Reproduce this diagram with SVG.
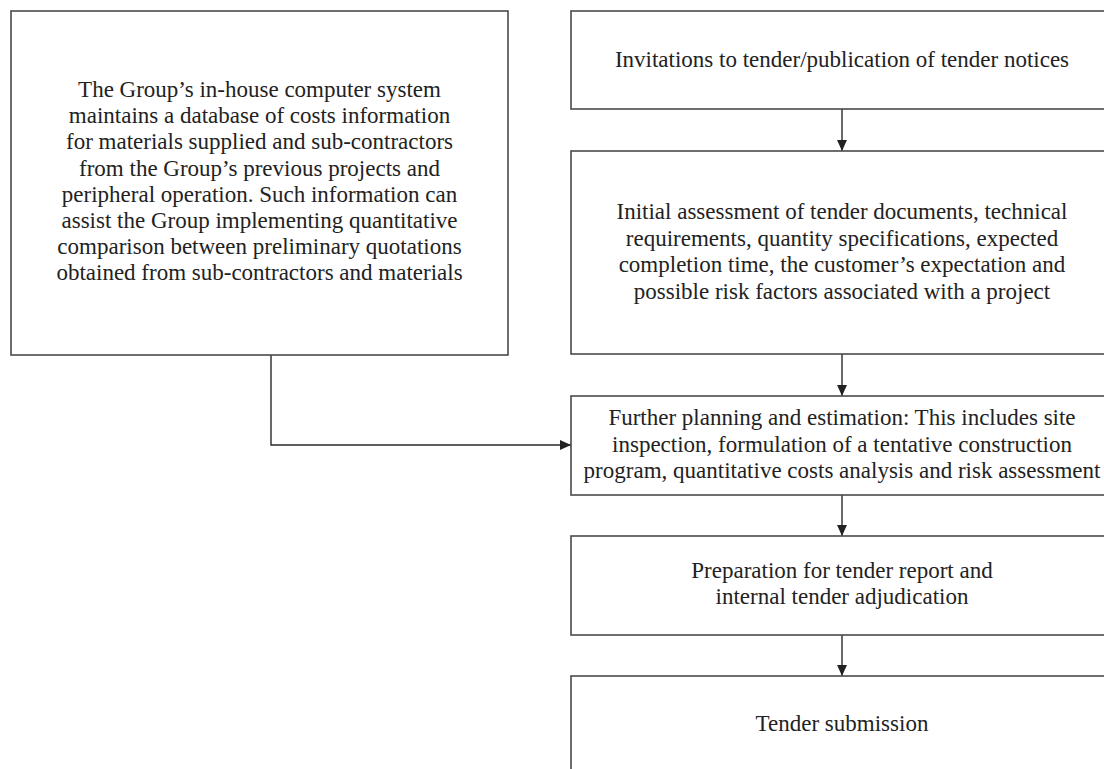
<svg xmlns="http://www.w3.org/2000/svg" width="1104" height="769" viewBox="0 0 1104 769">
<style>
.box{fill:#fff;stroke:#4a4a4a;stroke-width:1.6}
.t{font-family:"Liberation Serif","Times New Roman",serif;font-size:23px;fill:#222;text-anchor:middle}
.c{fill:none;stroke:#2a2a2a;stroke-width:1.4}
</style>
<defs>
<marker id="ah" viewBox="0 0 10 10" refX="10" refY="5" markerWidth="11" markerHeight="11" markerUnits="userSpaceOnUse" orient="auto">
<path d="M0,0.5 L10,5 L0,9.5 Z" fill="#222"/>
</marker>
</defs>
<rect width="1104" height="769" fill="#fff"/>
<g id="connectors">
<path class="c" d="M842,109 V151" marker-end="url(#ah)"/>
<path class="c" d="M842,354 V396" marker-end="url(#ah)"/>
<path class="c" d="M842,495 V536" marker-end="url(#ah)"/>
<path class="c" d="M842,635 V676" marker-end="url(#ah)"/>
<path class="c" d="M271,355 V445 H571" marker-end="url(#ah)"/>
</g>
<g id="n-database">
<rect class="box" x="11" y="11" width="497" height="344"/>
<text class="t" x="259.5" y="97">The Group’s in-house computer system</text>
<text class="t" x="259.5" y="123.2">maintains a database of costs information</text>
<text class="t" x="259.5" y="149.4">for materials supplied and sub-contractors</text>
<text class="t" x="259.5" y="175.6">from the Group’s previous projects and</text>
<text class="t" x="259.5" y="201.8">peripheral operation. Such information can</text>
<text class="t" x="259.5" y="228">assist the Group implementing quantitative</text>
<text class="t" x="259.5" y="254.2">comparison between preliminary quotations</text>
<text class="t" x="259.5" y="280.4">obtained from sub-contractors and materials</text>
</g>
<g id="n-invitations">
<rect class="box" x="571" y="11" width="542" height="98"/>
<text class="t" x="842" y="67">Invitations to tender/publication of tender notices</text>
</g>
<g id="n-initial">
<rect class="box" x="571" y="151" width="542" height="203"/>
<text class="t" x="842" y="219">Initial assessment of tender documents, technical</text>
<text class="t" x="842" y="245.5">requirements, quantity specifications, expected</text>
<text class="t" x="842" y="272">completion time, the customer’s expectation and</text>
<text class="t" x="842" y="298.5">possible risk factors associated with a project</text>
</g>
<g id="n-further">
<rect class="box" x="571" y="396" width="542" height="99"/>
<text class="t" x="842" y="425">Further planning and estimation: This includes site</text>
<text class="t" x="842" y="451.5">inspection, formulation of a tentative construction</text>
<text class="t" x="842" y="478">program, quantitative costs analysis and risk assessment</text>
</g>
<g id="n-preparation">
<rect class="box" x="571" y="536" width="542" height="99"/>
<text class="t" x="842" y="578">Preparation for tender report and</text>
<text class="t" x="842" y="604">internal tender adjudication</text>
</g>
<g id="n-submission">
<rect class="box" x="571" y="676" width="542" height="120"/>
<text class="t" x="842" y="731">Tender submission</text>
</g>
</svg>
